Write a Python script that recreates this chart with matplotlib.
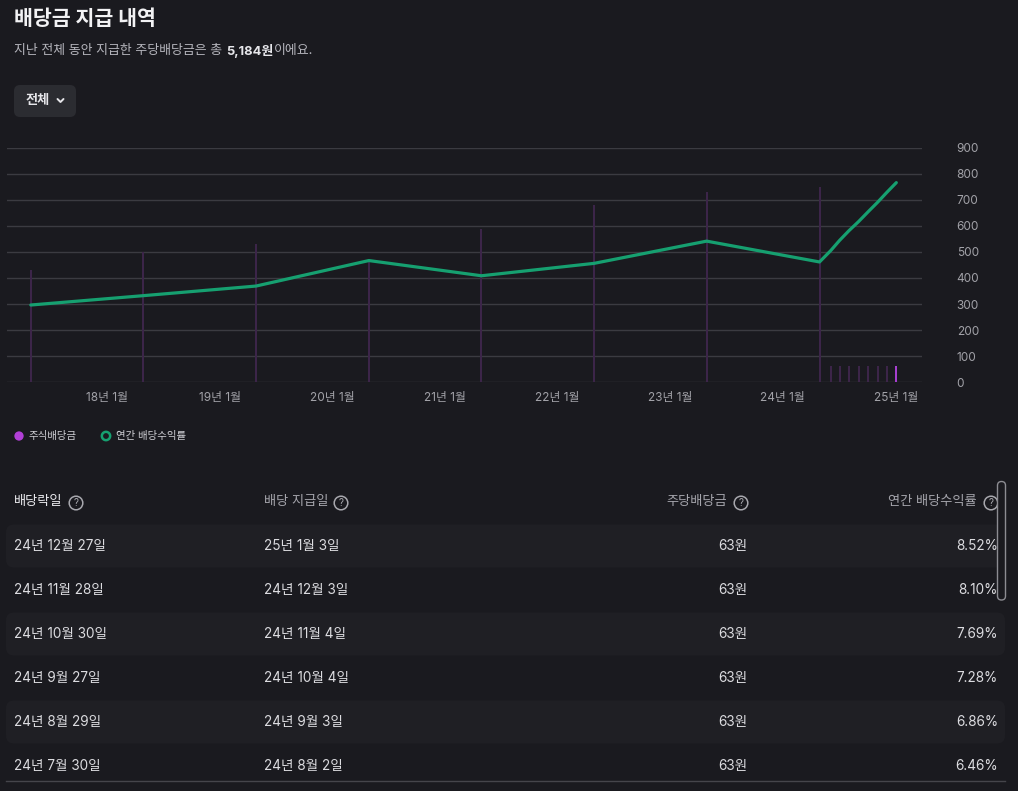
import matplotlib
matplotlib.use('Agg')
import matplotlib.pyplot as plt
import matplotlib.dates as mdates
from matplotlib.patches import FancyBboxPatch, Circle
import pandas as pd

# Inter for latin/digits, Noto CJK for hangul (close to the page's font)
plt.rcParams['font.family'] = ['Inter', 'Noto Sans CJK KR', 'DejaVu Sans']

# ---- chart data ----
annual_pay = pd.to_datetime(['2017-04-29', '2018-04-29', '2019-04-29', '2020-04-29',
                             '2021-04-29', '2022-04-29', '2023-04-29', '2024-04-29'])
annual_div = [430, 500, 530, 470, 590, 680, 730, 750]
monthly_pay = pd.to_datetime(['2024-06-04', '2024-07-03', '2024-08-02', '2024-09-03',
                              '2024-10-04', '2024-11-04', '2024-12-03', '2025-01-03'])
monthly_div = [63, 63, 63, 63, 63, 63, 63, 63]
yield_pct = [3.29, 3.69, 4.10, 5.19, 4.54, 5.07, 6.02, 5.13,
             5.61, 6.05, 6.46, 6.86, 7.28, 7.69, 8.10, 8.52]
year_ticks = pd.to_datetime(['2018-01-01', '2019-01-01', '2020-01-01', '2021-01-01',
                             '2022-01-01', '2023-01-01', '2024-01-01', '2025-01-01'])
year_labels = ['18년 1월', '19년 1월', '20년 1월', '21년 1월',
               '22년 1월', '23년 1월', '24년 1월', '25년 1월']
total_text = '5,184원'

# ---- table data ----
ex_dates = ['24년 12월 27일', '24년 11월 28일', '24년 10월 30일',
            '24년 9월 27일', '24년 8월 29일', '24년 7월 30일']
pay_dates = ['25년 1월 3일', '24년 12월 3일', '24년 11월 4일',
             '24년 10월 4일', '24년 9월 3일', '24년 8월 2일']
per_share = ['63원', '63원', '63원', '63원', '63원', '63원']
row_yields = ['8.52%', '8.10%', '7.69%', '7.28%', '6.86%', '6.46%']

BG = '#1a1a1f'
ROW = '#1f1f24'
GRID = '#3b3b41'
TICK = '#a2a2a8'
DIM = '#3c2549'
HILITE = '#a63fcf'
GREEN = '#16a070'
TEXT = '#dcdce0'
GREY = '#a5a5ac'

W, H = 1018, 791
fig = plt.figure(figsize=(W / 100, H / 100), dpi=100, facecolor=BG)

# overlay in pixel coordinates for the page elements
ui = fig.add_axes([0, 0, 1, 1], zorder=0)
ui.set_xlim(0, W)
ui.set_ylim(H, 0)
ui.axis('off')

ui.text(14, 19, '배당금 지급 내역', color='#f2f2f4', fontsize=14.8, fontweight='bold', va='center')
t1 = ui.text(14, 51, '지난 전체 동안 지급한 주당배당금은 총', color='#b6b6bd', fontsize=9.3, va='center')
t2 = ui.annotate(total_text, xy=(1, 0.5), xycoords=t1, xytext=(3, 0), textcoords='offset points',
                 color='#e6e6ea', fontsize=9.3, fontweight='bold', va='center')
ui.annotate('이에요.', xy=(1, 0.5), xycoords=t2, xytext=(0, 0), textcoords='offset points',
            color='#b6b6bd', fontsize=9.3, va='center')

# dropdown button
ui.add_patch(FancyBboxPatch((14, 85), 62, 32, boxstyle='round,pad=0,rounding_size=6',
                            fc='#2b2c31', ec='none'))
ui.text(26, 101, '전체', color='#e6e6ea', fontsize=9.5, fontweight='bold', va='center')
ui.plot([57.5, 60.5, 63.5], [99, 102, 99], color='#e6e6ea', lw=1.4,
        solid_capstyle='round', solid_joinstyle='round')

# legend
ui.scatter([19], [436], s=45, color='#b13fd6', edgecolors='none')
ui.text(29, 436, '주식배당금', color='#cfcfd4', fontsize=7.5, va='center', fontweight='medium')
ui.scatter([106], [436], s=36, facecolors='none', edgecolors=GREEN, linewidths=1.8)
ui.text(116, 436, '연간 배당수익률', color='#cfcfd4', fontsize=7.5, va='center', fontweight='medium')


def help_icon(x, y):
    ui.add_patch(Circle((x, y), 6.8, fill=False, ec='#a8a8ae', lw=1.1))
    ui.text(x, y + 0.5, '?', color='#a8a8ae', fontsize=7, ha='center', va='center')


# table header
hy = 502
ui.text(14, hy, '배당락일', color='#ececf0', fontsize=9.5, fontweight='medium', va='center')
help_icon(76, hy + 1)
ui.text(264, hy, '배당 지급일', color=GREY, fontsize=9.5, va='center')
help_icon(341, hy + 1)
ui.text(727, hy, '주당배당금', color=GREY, fontsize=9.5, va='center', ha='right')
help_icon(741, hy + 1)
ui.text(977, hy, '연간 배당수익률', color=GREY, fontsize=9.5, va='center', ha='right')
help_icon(991, hy + 1)

# table rows
for i in range(len(ex_dates)):
    cy = 546 + 44 * i
    if i % 2 == 0:
        ui.add_patch(FancyBboxPatch((6, cy - 21.5), 999, 43, boxstyle='round,pad=0,rounding_size=8',
                                    fc=ROW, ec='none'))
    ui.text(14, cy, ex_dates[i], color=TEXT, fontsize=9.8, va='center')
    ui.text(264, cy, pay_dates[i], color=TEXT, fontsize=9.8, va='center')
    ui.text(747.5, cy, per_share[i], color=TEXT, fontsize=9.8, va='center', ha='right')
    ui.text(998, cy, row_yields[i], color=TEXT, fontsize=9.8, va='center', ha='right')
ui.plot([6, 1005], [781, 781], color='#45454b', lw=1)

# scrollbar
ui.add_patch(FancyBboxPatch((997.5, 481.5), 8, 118.5, boxstyle='round,pad=0,rounding_size=4',
                            fc=BG, ec='#8c8c92', lw=1))

# ---- chart ----
def fx(px):
    return px / W


def fy(py):
    return 1 - py / H


ax = fig.add_axes([fx(7), fy(382), fx(922) - fx(7), fy(148) - fy(382)], zorder=1)
ax.set_facecolor('none')

n0 = mdates.date2num(year_ticks[0])
n1 = mdates.date2num(year_ticks[-1])
per_px = (n1 - n0) / (895.7 - 107)
ax.set_xlim(n0 + (7 - 107) * per_px, n0 + (922 - 107) * per_px)
ax.set_ylim(0, 900)

ax.bar(annual_pay, annual_div, width=6.5, color=DIM, zorder=2)
colors = [DIM] * (len(monthly_div) - 1) + [HILITE]
ax.bar(monthly_pay, monthly_div, width=6.5, color=colors, zorder=2)

# yield line on a hidden 0-10% axis
ax2 = ax.twinx()
ax2.set_ylim(0, 10)
ax2.axis('off')
ax2.plot(list(annual_pay) + list(monthly_pay), yield_pct, color=GREEN, lw=2.3,
         solid_capstyle='round', solid_joinstyle='round', zorder=3)

# twinx moves the ticks left, so put them back on the right
ax.yaxis.tick_right()
ax.set_yticks(range(0, 1000, 100))
ax.grid(axis='y', color=GRID, lw=1)
ax.set_axisbelow(True)
ax.set_xticks(year_ticks)
ax.set_xticklabels(year_labels)
ax.tick_params(axis='y', length=0, pad=25, labelcolor=TICK, labelsize=8.5,
               left=False, labelleft=False, right=True, labelright=True)
ax.tick_params(axis='x', length=0, pad=7, labelcolor=TICK, labelsize=8.5)
for lab in ax.get_yticklabels():
    lab.set_horizontalalignment('left')
for s in ax.spines.values():
    s.set_visible(False)

fig.savefig('out.png', dpi=100, facecolor=BG)
